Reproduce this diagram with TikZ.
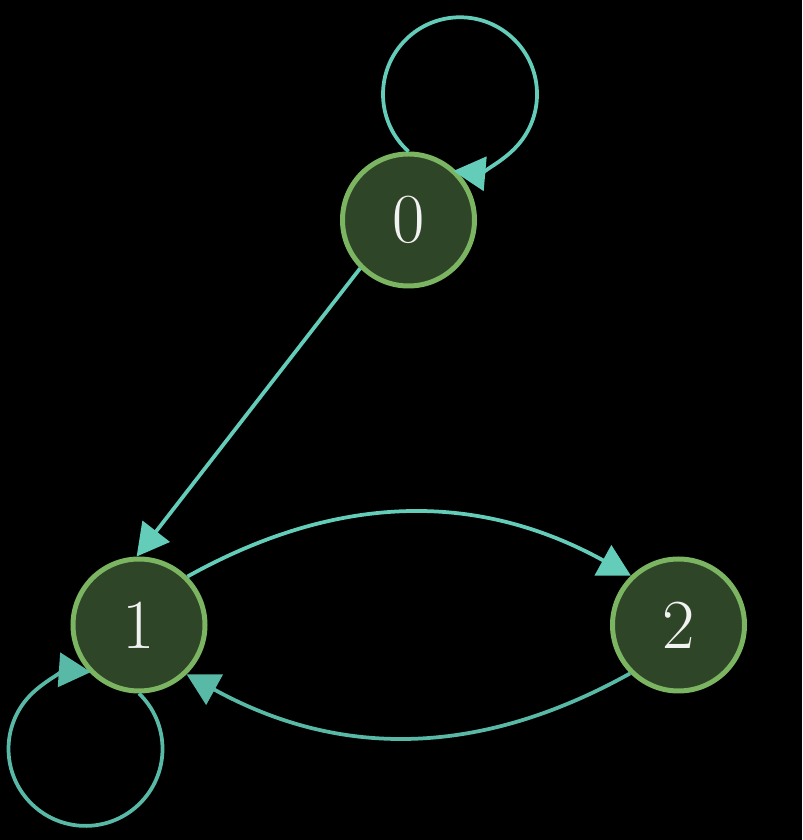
\documentclass[tikz,border=0pt]{standalone}
\usepackage{fontspec}
\usetikzlibrary{arrows.meta}
\definecolor{edgecol}{HTML}{63CDBA}
\definecolor{edgedark}{HTML}{58B9A7}
\definecolor{nodefill}{HTML}{2E4527}
\definecolor{noderim}{HTML}{7BB562}
\definecolor{labelcol}{HTML}{F2F2F2}
\tikzset{
  state/.style={circle, draw=noderim, fill=nodefill, line width=0.1cm,
    minimum size=2.64cm, inner sep=0pt, text=labelcol,
    font=\fontsize{40}{44}\selectfont},
  edge/.style={draw=edgecol, line width=0.075cm,
    -{Triangle[length=0.64cm, width=0.68cm]}},
  edgelow/.style={edge, draw=edgedark},
}
\begin{document}
\begin{tikzpicture}
  \fill[black] (0,0) rectangle (16.04,16.8);
  \useasboundingbox (0,0) rectangle (16.04,16.8);

  % states
  \node[state] (n0) at (8.17,12.4) {0};
  \node[state] (n1) at (2.78,4.3) {1};
  \node[state] (n2) at (13.57,4.3) {2};

  % transitions
  \draw[edge] (n0.225) -- (n1.92);
  \draw[edge] (n1.45) to[bend left=29] (n2.134);
  \draw[edgelow] (n2.225) to[bend left=29] (n1.-46);

  % self-loops
  \draw[edge] (n0.north) arc[start angle=228, end angle=-95, radius=1.54cm];
  \draw[edgelow] (n1.south) arc[start angle=46, end angle=-274, radius=1.54cm];
\end{tikzpicture}
\end{document}
